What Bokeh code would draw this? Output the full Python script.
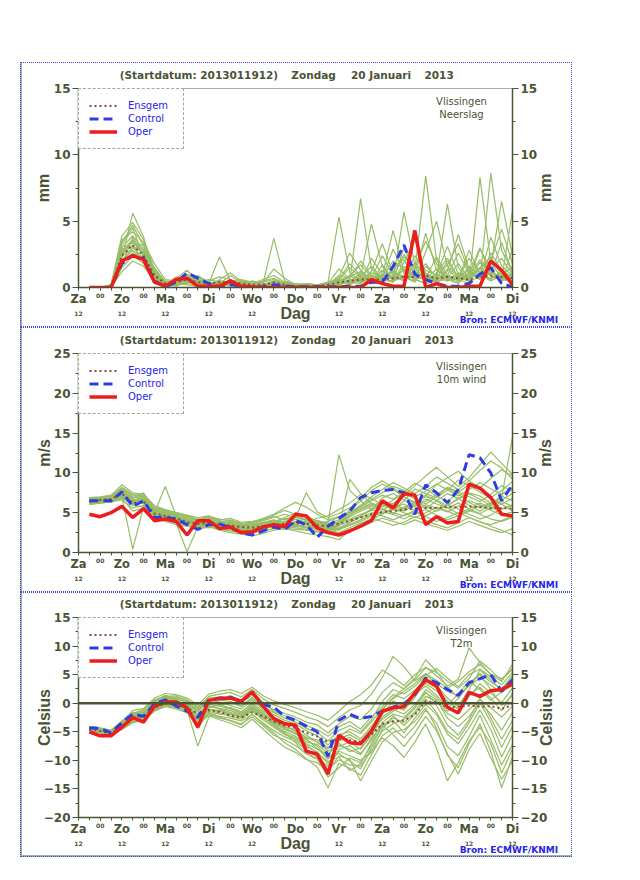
from math import pi
from bokeh.plotting import figure
from bokeh.layouts import column, row
from bokeh.models import (Range1d, LinearAxis, FixedTicker, Label, Legend, LegendItem,
                          Span, Spacer)
from bokeh.embed import file_html
from bokeh.resources import INLINE

# ---------------- data ----------------
HOURS = list(range(6, 241, 6))            # forecast hours (6-hourly)
DAY_TICKS = list(range(0, 241, 24))       # 12 UTC positions
DAY_NAMES = ["Za", "Zo", "Ma", "Di", "Wo", "Do", "Vr", "Za", "Zo", "Ma", "Di"]
NIGHT_TICKS = list(range(12, 240, 24))    # 00 UTC positions
TITLE_PARTS = ["(Startdatum: 2013011912)", "Zondag", "20 Januari", "2013"]
TITLE_AT = [66.6, 130.0, 167.3, 199.4]    # forecast hour under the centre of each title part
STATION = "Vlissingen"
SOURCE = "Bron: ECMWF/KNMI"
SOURCE_AT = 238.0
DAG_AT = 120
LEGEND_NAMES = ["Ensgem", "Control", "Oper"]

# Neerslag (mm)
precip_oper = [0, 0, 0, 2.0, 2.4, 2.1, 0.4, 0.1, 0.6, 0.7,
               0.1, 0.1, 0.1, 0.5, 0.1, 0.05, 0, 0, 0, 0,
               0, 0, 0, 0, 0, 0, 0.6, 0.3, 0.1, 0.1,
               4.3, 0, 0.3, 0, 0, 0.1, 0.1, 2.0, 1.3, 0.2]
precip_control = [0, 0, 0, 1.8, 2.4, 2.2, 0.5, 0.05, 0.4, 1.1,
                  0.7, 0.3, 0.05, 0.2, 0.1, 0.05, 0.05, 0.2, 0.1, 0.05,
                  0.05, 0.05, 0.05, 0.05, 0.1, 0.1, 0.4, 0.4, 1.6, 3.2,
                  1.0, 0.6, 0.3, 0.1, 0.1, 0.3, 1.0, 1.5, 0.3, 0.05]
precip_ensgem = [0, 0, 0.05, 2.4, 3.2, 2.4, 0.9, 0.3, 0.4, 0.6,
                 0.4, 0.3, 0.4, 0.4, 0.3, 0.2, 0.2, 0.4, 0.2, 0.1,
                 0.1, 0.1, 0.2, 0.4, 0.5, 0.6, 0.6, 0.6, 0.7, 0.8,
                 0.8, 0.9, 0.7, 0.8, 0.7, 0.6, 0.8, 0.9, 0.8, 0.7]
precip_members = [
    [0, 0, 0.1, 2.8, 3.6, 2.4, 0.8, 0.2, 0.3, 0.5, 0.2, 0.1, 0.3, 0.4, 0.1, 0, 0.1, 0.2, 0.1, 0,
     0, 0, 0.1, 0.3, 0.8, 1.2, 0.6, 0.4, 1.5, 2.1, 0.6, 0.3, 1.1, 2.2, 0.7, 0.5, 1.4, 2.3, 0.9, 0.4],
    [0, 0, 0.2, 3.4, 4.7, 3.1, 1.2, 0.3, 0.5, 0.9, 0.4, 0.2, 0.1, 0.6, 0.2, 0.1, 0, 0, 0.1, 0.1,
     0, 0.1, 0.4, 5.3, 1.1, 0.5, 0.3, 0.8, 0.4, 1.9, 3.6, 1.0, 0.4, 0.7, 1.8, 0.6, 2.9, 1.4, 0.5, 0.8],
    [0, 0, 0, 1.9, 3.0, 2.7, 1.5, 0.4, 0.2, 0.4, 0.6, 0.3, 2.3, 0.5, 0.2, 0.3, 0.1, 0.2, 0, 0,
     0.1, 0, 0, 0.2, 0.5, 6.7, 1.4, 0.6, 0.9, 0.5, 1.3, 8.4, 2.1, 0.6, 0.3, 1.2, 0.7, 3.8, 1.6, 0.9],
    [0, 0, 0.1, 2.2, 5.6, 3.8, 0.9, 0.1, 0.7, 1.3, 0.5, 0.1, 0.2, 0.3, 0.4, 0.1, 0.2, 0.1, 0.2, 0.1,
     0, 0, 0.2, 0.6, 1.8, 0.9, 4.8, 1.6, 0.5, 0.8, 0.4, 1.6, 0.8, 6.3, 1.5, 0.4, 0.9, 1.7, 6.5, 2.4],
    [0, 0, 0, 2.5, 3.2, 2.0, 0.6, 0.1, 0.4, 0.6, 0.3, 0.5, 0.8, 0.6, 0.3, 0.2, 0.3, 3.7, 0.5, 0.2,
     0.1, 0.1, 0, 0, 0.3, 0.7, 0.5, 0.9, 4.3, 1.2, 0.6, 0.3, 0.5, 1.4, 0.6, 0.3, 8.3, 1.9, 0.7, 0.5],
    [0, 0, 0.1, 3.0, 3.9, 2.9, 1.1, 0.5, 0.2, 0.3, 0.8, 0.4, 0.2, 0.1, 0.5, 0.4, 0.2, 0.5, 0.3, 0.1,
     0.2, 0.1, 0.2, 0.5, 0.9, 0.4, 2.2, 1.0, 0.6, 5.7, 1.7, 0.8, 0.4, 0.9, 2.6, 1.1, 0.6, 8.6, 2.8, 1.2],
    [0, 0, 0, 1.5, 2.4, 1.8, 0.4, 0.1, 0.3, 0.2, 0.1, 0.2, 0.3, 0.9, 0.4, 0.3, 0.6, 0.9, 0.4, 0.3,
     0.1, 0, 0.1, 0.3, 0.4, 1.1, 0.7, 0.5, 0.8, 2.5, 0.9, 4.1, 1.3, 0.7, 0.4, 1.0, 3.0, 0.8, 0.6, 5.8],
    [0, 0, 0.2, 3.6, 4.2, 3.4, 1.8, 0.6, 0.5, 1.0, 0.7, 0.3, 0.4, 0.2, 0.2, 0.1, 0.1, 0.3, 0.2, 0.2,
     0.3, 0.2, 0.1, 0.2, 0.6, 0.5, 1.2, 3.3, 1.1, 0.7, 2.4, 1.3, 0.9, 3.1, 1.0, 0.6, 1.5, 2.0, 4.4, 1.8],
    [0, 0, 0, 2.0, 2.6, 2.3, 0.9, 0.2, 0.1, 0.4, 0.3, 0.2, 0.5, 0.3, 0.2, 0.5, 0.3, 1.4, 0.7, 0.2,
     0.1, 0.2, 0.3, 0.1, 0.2, 0.6, 0.4, 1.7, 0.6, 0.9, 1.5, 3.5, 1.8, 0.5, 0.7, 2.2, 1.1, 0.6, 1.3, 0.7],
    [0, 0, 0.1, 2.7, 3.4, 2.6, 1.0, 0.3, 0.6, 0.8, 0.4, 0.6, 0.4, 0.2, 0.1, 0.2, 0.4, 0.6, 0.3, 0.1,
     0, 0.1, 0.2, 0.8, 2.6, 1.3, 0.6, 0.4, 1.2, 0.8, 0.5, 2.7, 5.0, 1.6, 0.8, 0.5, 1.9, 1.2, 0.5, 2.9],
    [0, 0, 0, 1.2, 2.0, 1.6, 0.5, 0.2, 0.2, 0.3, 0.2, 0.1, 0.6, 1.1, 0.5, 0.3, 0.2, 0.4, 0.2, 0.3,
     0.2, 0.1, 0.1, 0.4, 0.3, 0.8, 1.6, 0.7, 2.9, 1.1, 0.6, 0.9, 0.5, 1.2, 4.0, 1.4, 0.7, 1.1, 0.8, 0.4],
    [0, 0, 0.1, 3.2, 4.5, 2.2, 0.7, 0.3, 0.4, 0.7, 0.5, 0.3, 0.2, 0.4, 0.3, 0.2, 0.1, 0.2, 0.4, 0.2,
     0.1, 0, 0.2, 0.9, 0.7, 2.0, 0.9, 0.6, 0.5, 3.0, 1.2, 0.7, 2.3, 0.9, 0.6, 2.8, 1.0, 0.5, 0.9, 1.6],
    [0, 0, 0, 2.4, 2.9, 3.3, 1.3, 0.4, 0.3, 0.5, 0.9, 0.4, 0.3, 0.5, 0.6, 0.4, 0.2, 0.1, 0.1, 0.2,
     0.3, 0.2, 0.4, 0.6, 1.5, 0.8, 0.5, 1.3, 0.7, 0.6, 0.9, 1.8, 0.7, 0.5, 1.1, 0.8, 2.1, 1.0, 3.4, 1.1],
    [0, 0, 0.1, 2.9, 3.1, 1.9, 0.6, 0.1, 0.2, 0.6, 0.2, 0.2, 0.2, 0.3, 0.2, 0.1, 0.3, 0.2, 0.1, 0.1,
     0.1, 0.1, 0.2, 0.5, 0.4, 0.3, 0.9, 0.6, 0.4, 1.6, 0.8, 0.6, 1.0, 0.6, 0.9, 0.7, 1.5, 0.9, 0.6, 0.5],
    [0, 0, 0, 1.7, 3.8, 2.5, 1.0, 0.2, 0.8, 0.4, 0.3, 0.2, 0.4, 0.3, 0.4, 0.2, 0.5, 0.7, 0.3, 0.2,
     0.2, 0.1, 0.3, 1.4, 0.6, 0.5, 0.7, 2.4, 0.9, 0.5, 1.9, 0.8, 0.6, 2.0, 0.8, 1.3, 0.6, 1.4, 2.2, 1.0],
    [0, 0, 0.2, 3.9, 4.9, 3.6, 1.4, 0.4, 0.6, 0.8, 0.6, 0.2, 0.3, 0.2, 0.1, 0.2, 0.3, 0.2, 0.1, 0.1,
     0.2, 0.1, 0.1, 0.3, 0.9, 1.7, 0.8, 0.5, 1.3, 2.3, 1.5, 0.6, 0.8, 1.7, 3.3, 1.2, 0.7, 2.6, 1.3, 0.8],
    [0, 0, 0, 2.1, 2.8, 2.1, 0.7, 0.2, 0.3, 0.5, 0.2, 0.3, 0.5, 0.4, 0.2, 0.1, 0.1, 0.3, 0.2, 0.1,
     0.1, 0, 0.1, 0.2, 0.5, 0.4, 1.1, 0.8, 2.0, 1.4, 0.7, 1.1, 0.6, 0.9, 0.5, 1.6, 0.9, 0.7, 1.1, 0.6],
    [0, 0, 0.1, 2.6, 3.5, 2.8, 1.1, 0.3, 0.4, 0.7, 0.4, 0.2, 0.2, 0.3, 0.3, 0.2, 0.2, 0.4, 0.3, 0.2,
     0.1, 0.1, 0.3, 0.7, 0.5, 0.9, 0.6, 1.0, 0.7, 1.3, 0.9, 0.6, 1.4, 0.8, 0.6, 1.1, 0.8, 1.2, 0.7, 1.0],
]

# 10m wind (m/s)
wind_oper = [4.8, 4.5, 5.0, 5.8, 4.4, 5.5, 4.0, 4.2, 3.9, 2.2,
             4.0, 4.0, 3.0, 3.2, 2.5, 2.6, 3.2, 3.5, 3.25, 4.8,
             4.6, 3.1, 2.5, 2.2, 2.7, 3.3, 4.0, 6.5, 5.6, 7.4,
             7.2, 3.5, 4.5, 3.7, 3.9, 8.6, 8.1, 6.9, 4.8, 4.6]
wind_control = [6.5, 6.5, 6.5, 7.6, 5.8, 6.5, 4.4, 4.4, 4.2, 3.5,
                2.9, 3.5, 3.6, 3.1, 2.5, 2.2, 2.7, 3.2, 2.9, 4.0,
                3.5, 1.9, 3.3, 4.3, 5.2, 6.9, 7.5, 7.8, 7.9, 7.5,
                4.8, 8.5, 7.5, 6.25, 7.9, 12.3, 11.9, 10.0, 6.5, 8.5]
wind_ensgem = [6.4, 6.6, 6.7, 7.4, 6.2, 6.4, 4.9, 4.6, 4.3, 3.8,
               3.6, 3.7, 3.5, 3.4, 3.2, 3.1, 3.3, 3.5, 3.6, 3.7,
               3.6, 3.4, 3.3, 3.6, 4.0, 4.4, 4.8, 5.1, 5.2, 5.4,
               5.5, 5.6, 5.6, 5.7, 5.7, 5.8, 5.7, 5.6, 5.6, 5.5]
wind_members = [
    [6.4, 6.6, 6.8, 7.4, 6.2, 6.9, 5.1, 4.6, 4.3, 3.9, 3.6, 3.8, 3.4, 3.5, 3.1, 2.9, 3.2, 3.6, 3.9, 4.2,
     3.8, 3.4, 3.0, 3.6, 4.5, 5.2, 5.8, 6.4, 6.1, 5.5, 6.3, 7.0, 6.6, 5.9, 6.8, 7.5, 7.1, 6.2, 5.4, 5.9],
    [6.7, 6.9, 7.0, 8.2, 7.3, 7.0, 5.6, 5.2, 4.9, 4.4, 4.0, 4.3, 3.9, 3.6, 3.3, 3.5, 3.8, 4.1, 3.7, 3.5,
     3.9, 4.3, 4.6, 5.4, 6.2, 7.3, 6.8, 6.0, 5.3, 6.5, 8.0, 7.4, 6.9, 7.8, 9.1, 8.4, 7.6, 6.8, 6.1, 5.2],
    [6.1, 6.3, 6.5, 7.0, 0.4, 5.8, 4.4, 4.1, 3.7, 0.1, 3.2, 3.5, 3.0, 2.8, 2.6, 2.4, 2.7, 3.0, 3.3, 3.1,
     2.9, 2.7, 2.5, 2.9, 3.4, 3.9, 4.6, 5.1, 4.8, 4.2, 4.9, 5.4, 4.7, 4.1, 4.6, 5.3, 4.8, 4.2, 3.9, 4.4],
    [6.5, 6.7, 6.6, 7.7, 5.9, 6.4, 5.0, 8.3, 4.6, 4.1, 3.8, 4.0, 3.6, 3.9, 3.4, 3.2, 3.5, 3.8, 4.4, 5.0,
     4.6, 3.9, 3.5, 3.7, 4.2, 4.8, 5.3, 6.9, 7.4, 6.6, 5.8, 6.4, 7.3, 8.1, 7.4, 6.3, 5.6, 6.2, 7.1, 6.5],
    [6.3, 6.5, 6.7, 7.1, 6.6, 6.1, 4.7, 4.4, 4.1, 3.6, 3.3, 3.1, 3.4, 3.2, 2.8, 2.6, 2.9, 3.3, 3.5, 3.2,
     3.6, 4.0, 3.7, 12.3, 7.8, 6.5, 5.4, 4.8, 5.6, 6.1, 5.2, 4.6, 5.3, 6.0, 5.5, 4.8, 4.2, 4.7, 5.5, 6.0],
    [6.9, 7.0, 7.2, 8.5, 7.5, 7.3, 5.9, 5.4, 5.0, 4.7, 4.4, 4.6, 4.1, 4.3, 3.8, 3.9, 4.2, 4.5, 4.1, 4.4,
     7.5, 5.1, 4.4, 4.9, 5.6, 6.4, 7.8, 8.6, 7.9, 7.0, 6.2, 7.2, 8.5, 9.4, 10.2, 9.0, 8.1, 9.3, 10.4, 9.6],
    [6.2, 6.4, 6.3, 6.8, 5.2, 5.6, 4.2, 3.9, 3.5, 3.3, 3.0, 3.3, 2.8, 2.5, 2.3, 2.1, 2.4, 2.8, 3.0, 2.7,
     2.4, 2.2, 2.0, 1.6, 2.8, 3.6, 4.3, 3.9, 3.4, 3.8, 4.5, 4.0, 3.5, 3.1, 3.7, 4.4, 3.9, 3.3, 2.8, 2.2],
    [6.6, 6.8, 6.9, 7.9, 6.8, 7.5, 5.4, 4.9, 4.6, 4.3, 3.9, 4.2, 3.8, 4.1, 3.6, 3.4, 3.7, 3.4, 3.8, 4.5,
     4.0, 3.6, 3.9, 4.4, 5.0, 5.7, 6.5, 7.2, 6.7, 7.6, 8.7, 8.0, 7.1, 6.4, 7.5, 8.6, 7.9, 6.9, 7.8, 8.9],
    [6.5, 6.4, 6.6, 7.3, 6.4, 6.7, 4.9, 4.5, 4.4, 3.8, 3.5, 3.7, 3.3, 3.0, 2.7, 2.9, 3.3, 3.7, 3.4, 3.8,
     4.3, 3.8, 3.3, 3.0, 3.5, 4.1, 4.8, 5.5, 5.0, 4.6, 5.3, 6.0, 5.6, 5.1, 5.8, 6.5, 6.0, 5.4, 6.1, 6.8],
    [6.8, 6.9, 7.1, 8.0, 7.0, 6.8, 5.3, 5.0, 4.7, 4.2, 3.7, 3.9, 3.5, 3.3, 3.1, 3.3, 3.6, 3.9, 4.3, 3.9,
     3.6, 3.2, 2.9, 3.3, 9.2, 7.4, 6.1, 5.3, 6.2, 7.0, 6.3, 5.5, 6.5, 7.4, 6.8, 5.9, 5.2, 6.0, 6.9, 14.5],
    [6.3, 6.2, 6.4, 6.9, 6.0, 5.7, 4.5, 4.3, 3.9, 3.5, 3.4, 3.6, 3.2, 3.4, 3.0, 2.8, 3.0, 3.2, 2.9, 3.3,
     3.1, 2.9, 2.7, 3.1, 3.8, 4.4, 5.0, 4.6, 4.1, 4.7, 5.1, 4.5, 3.9, 4.4, 5.0, 4.4, 3.8, 3.5, 4.0, 4.6],
    [6.7, 6.7, 6.9, 7.6, 6.9, 7.1, 5.2, 4.8, 4.5, 4.0, 3.6, 3.9, 3.7, 3.8, 3.4, 3.6, 4.0, 4.4, 4.8, 4.4,
     4.1, 3.7, 3.4, 3.8, 4.6, 5.9, 7.0, 7.9, 8.8, 8.1, 7.4, 8.3, 9.5, 8.7, 7.9, 9.0, 10.3, 11.5, 10.6, 9.2],
    [6.4, 6.5, 6.5, 7.2, 6.3, 6.3, 4.8, 4.6, 4.2, 3.7, 3.1, 3.4, 3.1, 2.9, 2.8, 3.0, 3.4, 3.1, 3.5, 3.9,
     3.5, 3.1, 2.8, 2.5, 3.1, 3.7, 4.1, 4.9, 5.5, 5.0, 4.4, 5.0, 5.7, 5.2, 4.6, 5.2, 5.9, 5.3, 4.7, 5.1],
    [6.6, 6.8, 6.8, 7.8, 6.7, 6.6, 5.5, 5.1, 4.8, 4.5, 4.1, 4.4, 4.0, 3.7, 3.5, 3.7, 4.1, 4.7, 5.3, 4.8,
     4.4, 4.0, 3.6, 4.1, 4.9, 5.5, 6.2, 5.7, 6.6, 7.4, 6.8, 6.1, 7.0, 8.2, 7.6, 7.0, 6.4, 7.3, 8.4, 7.7],
    [6.0, 6.2, 6.4, 6.6, 5.6, 5.9, 4.3, 4.0, 3.8, 3.4, 2.9, 3.2, 2.9, 2.7, 2.5, 2.6, 2.9, 3.5, 3.2, 3.5,
     3.3, 3.0, 2.6, 3.4, 4.0, 4.6, 5.3, 6.1, 5.6, 5.2, 5.9, 6.7, 6.1, 5.6, 4.9, 5.5, 6.2, 5.7, 5.0, 4.4],
    [6.5, 6.6, 6.8, 7.5, 6.5, 6.6, 5.0, 4.7, 4.5, 4.0, 3.7, 3.9, 3.6, 3.4, 3.2, 3.4, 3.7, 4.0, 3.6, 3.4,
     3.2, 3.0, 2.8, 3.5, 5.4, 6.8, 8.2, 9.0, 8.1, 7.2, 8.4, 9.6, 10.7, 9.5, 8.3, 9.4, 11.0, 12.6, 11.2, 9.8],
    [6.2, 6.4, 6.5, 7.0, 6.1, 6.2, 4.6, 4.2, 4.0, 3.6, 3.3, 3.5, 3.1, 3.1, 2.9, 2.7, 3.1, 3.4, 3.1, 2.9,
     2.8, 2.6, 2.4, 2.2, 2.9, 3.3, 3.8, 4.3, 3.9, 3.5, 4.1, 3.6, 3.2, 2.8, 3.3, 3.9, 3.4, 2.9, 2.5, 3.0],
    [6.8, 6.9, 7.0, 8.1, 7.2, 7.2, 5.7, 5.3, 5.0, 4.6, 4.2, 4.5, 4.2, 4.0, 3.7, 3.8, 4.3, 4.8, 5.6, 6.3,
     5.7, 4.8, 4.1, 4.5, 5.1, 5.9, 6.7, 7.5, 8.3, 7.8, 7.0, 7.7, 8.6, 7.9, 7.1, 7.9, 8.8, 8.0, 7.3, 8.2],
    [6.4, 6.5, 6.6, 7.2, 6.2, 6.5, 4.8, 4.5, 4.2, 3.9, 3.5, 3.6, 3.2, 3.2, 2.9, 3.1, 3.4, 3.8, 4.2, 4.6,
     4.2, 3.7, 3.2, 3.9, 4.7, 5.4, 6.0, 5.4, 4.9, 5.7, 6.4, 5.8, 5.2, 5.9, 6.7, 7.4, 6.7, 5.9, 6.6, 7.4],
    [6.6, 6.7, 6.9, 7.7, 6.6, 6.9, 5.2, 4.8, 4.6, 4.1, 3.8, 4.0, 3.7, 3.5, 3.3, 3.2, 3.5, 3.9, 3.5, 3.7,
     3.9, 3.5, 3.1, 2.8, 3.7, 4.6, 5.5, 6.3, 5.9, 5.4, 6.1, 7.2, 6.5, 5.6, 6.2, 5.5, 4.9, 5.6, 6.4, 5.8],
]

# T2m (Celsius)
temp_oper = [-5.0, -5.7, -5.7, -4.2, -2.5, -3.3, -0.5, 0.2, 0.2, -0.8,
             -4.2, 0.5, 0.8, 0.9, 0.35, 2.0, -0.5, -2.7, -3.6, -3.85,
             -8.4, -8.9, -12.4, -5.6, -6.9, -7.1, -4.9, -1.4, -0.8, -0.6,
             1.8, 4.1, 3.0, -0.7, -1.7, 1.9, 1.2, 2.2, 2.4, 3.4]
temp_control = [-4.3, -4.4, -5.2, -3.4, -1.9, -2.3, -0.1, 0.6, -0.5, -1.4,
                -2.5, 0.5, 0.9, 1.05, 0.35, 1.8, -0.2, -0.7, -2.3, -3.0,
                -4.0, -5.0, -9.3, -3.0, -1.9, -2.7, -2.3, -1.4, -0.7, -0.1,
                1.5, 4.4, 3.6, 2.4, 1.4, 3.6, 4.3, 5.0, 2.1, 4.1]
temp_ensgem = [-4.6, -4.9, -5.3, -4.0, -2.6, -2.2, -0.8, 0.0, -0.3, -0.8,
               -1.8, -1.2, -1.5, -2.2, -2.5, -1.6, -2.3, -3.2, -3.9, -4.3,
               -5.2, -5.8, -6.8, -6.2, -6.5, -6.8, -5.5, -3.6, -3.2, -3.0,
               -2.0, 0.3, 0.2, -0.8, -0.6, -0.4, -0.6, -0.5, -1.0, -0.3]
temp_members = [
    [-4.3, -4.6, -5.1, -3.8, -2.2, -1.5, -0.4, 0.3, 0.1, -0.5, -2.1, -0.8, -0.3, 0.2, -0.6, 0.8, -1.2, -2.5, -3.4, -4.1,
     -5.6, -6.8, -8.4, -7.3, -8.1, -9.0, -6.2, -3.8, -2.6, -3.4, -1.5, 1.2, 0.4, -1.8, -2.9, -1.1, 0.6, -0.8, -2.4, -0.5],
    [-4.6, -5.0, -5.4, -4.2, -2.9, -2.5, -1.0, 0.6, 0.9, 0.2, -1.5, 0.4, 0.9, 1.3, 0.5, 1.9, 0.2, -1.4, -2.2, -2.8,
     -3.9, -4.6, -5.8, -4.1, -3.2, -4.5, -2.4, -0.6, 1.5, 0.8, 2.3, 4.2, 3.5, 2.1, 1.3, 3.0, 4.4, 3.2, 1.8, 3.6],
    [-4.1, -4.3, -4.8, -3.3, -1.6, -2.0, 0.5, 1.4, 0.8, -0.9, -4.4, -1.6, -2.4, -3.1, -3.8, -1.9, -3.6, -5.2, -6.9, -8.1,
     -9.7, -11.2, -14.8, -10.5, -11.4, -12.6, -9.0, -5.7, -4.3, -6.1, -4.0, -1.2, -3.5, -7.6, -9.2, -5.8, -2.1, -6.4, -10.8, -7.2],
    [-4.5, -4.8, -5.2, -4.4, -3.1, -2.7, -0.9, 0.0, -0.4, -1.1, -7.5, -2.5, -1.4, -0.7, -1.5, -0.2, -1.8, -3.3, -4.6, -5.2,
     -6.4, -7.5, -9.6, -8.8, -10.1, -11.5, -7.8, -4.9, -3.6, -2.8, -0.9, 1.8, 0.6, -2.6, -4.1, -2.3, 0.2, -1.9, -4.7, -1.6],
    [-4.4, -4.7, -5.0, -3.6, -2.4, -1.8, -0.2, 0.8, 1.1, 0.6, -0.8, 1.2, 1.6, 1.9, 1.1, 2.4, 0.8, -0.3, -0.9, -1.6,
     -2.4, -3.0, -4.1, -2.5, -1.2, -0.4, 1.6, 4.5, 8.2, 6.4, 3.9, 5.2, 3.1, 0.9, -0.6, 2.4, 5.8, 4.1, 2.2, 4.6],
    [-4.7, -5.1, -5.5, -4.6, -3.4, -3.0, -1.4, -0.6, -1.0, -1.7, -3.6, -2.2, -2.9, -3.5, -4.3, -2.8, -4.5, -6.2, -7.7, -8.6,
     -9.9, -10.4, -12.0, -9.2, -9.8, -13.6, -10.1, -6.8, -5.1, -4.6, -3.2, -0.8, -4.4, -9.1, -11.3, -7.0, -3.6, -8.5, -14.8, -9.3],
    [-4.2, -4.5, -4.9, -3.2, -1.3, -0.9, 0.9, 1.7, 1.5, 0.9, -0.3, 1.6, 2.1, 2.4, 1.7, 2.8, 1.3, 0.4, -0.2, -0.8,
     -1.5, -2.1, -3.0, -1.4, 0.3, 1.5, 3.2, 5.8, 4.6, 3.1, 5.0, 6.3, 4.8, 3.0, 4.2, 9.7, 7.1, 5.0, 3.8, 6.8],
    [-4.5, -4.9, -5.3, -4.0, -2.7, -2.2, -0.7, 0.2, -0.1, -0.7, -2.6, -1.0, -1.7, -2.3, -2.8, -1.4, -2.9, -4.2, -5.5, -6.3,
     -7.6, -8.5, -10.6, -8.1, -7.4, -8.8, -6.5, -3.4, -1.9, -2.5, -0.6, 2.4, 1.0, -1.4, -0.2, 1.5, 2.8, 0.9, -1.3, 1.8],
    [-4.8, -5.2, -5.6, -4.5, -3.3, -2.8, -1.2, -0.3, -0.6, -1.3, -3.0, -1.8, -2.3, -2.6, -3.1, -2.0, -3.4, -4.8, -5.9, -6.6,
     -8.2, -9.3, -11.5, -9.9, -10.8, -11.0, -8.3, -6.1, -7.4, -9.5, -6.8, -3.6, -7.9, -13.6, -10.4, -6.6, -4.2, -7.1, -12.2, -8.0],
    [-4.3, -4.6, -5.1, -3.7, -2.0, -1.6, 0.2, 1.0, 0.5, -0.2, -1.1, 0.6, 0.2, -0.4, -1.0, 0.5, -0.8, -2.0, -3.0, -3.6,
     -4.8, -5.7, -7.3, -5.5, -5.0, -6.2, -4.0, -1.6, -0.5, -1.2, 1.0, 3.8, 2.6, 0.4, -1.0, 1.2, 3.4, 1.8, 0.1, 2.7],
    [-4.6, -5.0, -5.3, -4.1, -2.6, -2.3, -0.5, 0.5, 0.4, -0.3, -2.3, -0.4, -1.0, -1.6, -2.1, -0.7, -2.4, -3.9, -4.9, -5.8,
     -7.1, -8.0, -9.1, -6.6, -6.0, -7.2, -5.1, -2.8, -1.4, -0.4, 1.6, 3.0, 1.4, -0.9, 0.8, 3.4, 5.2, 3.7, 2.5, 4.9],
    [-4.4, -4.8, -5.2, -3.9, -2.5, -2.0, -0.3, 0.4, 0.2, -0.6, -1.9, -0.2, -0.5, -1.0, -1.6, 0.1, -1.5, -2.9, -4.0, -4.7,
     -6.0, -6.4, -7.8, -5.9, -4.5, -5.3, -3.3, -0.9, 0.8, 2.1, 3.4, 5.1, 4.0, 2.6, 3.8, 5.5, 6.8, 5.1, 4.3, 5.9],
    [-4.5, -4.9, -5.4, -4.3, -3.0, -2.6, -1.1, -0.2, -0.3, -1.0, -2.8, -1.4, -1.9, -2.0, -2.5, -1.2, -2.6, -3.6, -5.1, -6.9,
     -8.9, -9.8, -12.9, -11.3, -9.6, -10.4, -7.4, -4.1, -3.0, -5.2, -2.6, -0.2, -2.0, -5.4, -7.1, -4.3, -1.2, -4.6, -9.4, -5.5],
    [-4.2, -4.4, -4.7, -3.1, -1.8, -1.1, 0.6, 1.2, 1.3, 0.4, -0.6, 0.9, 1.1, 0.7, 0.1, 1.4, -0.3, -1.1, -1.8, -2.4,
     -3.3, -3.8, -5.2, -3.6, -2.3, -2.9, -1.0, 1.9, 3.6, 2.5, 4.1, 6.2, 5.4, 3.9, 2.6, 4.3, 7.4, 5.8, 4.0, 6.1],
    [-4.6, -5.0, -5.5, -4.1, -2.8, -2.4, -0.8, 0.1, -0.2, -0.8, -2.4, -1.2, -1.2, -1.8, -2.3, -0.9, -2.2, -3.2, -4.4, -5.3,
     -6.8, -7.2, -8.9, -7.0, -8.5, -7.8, -5.8, -2.4, -1.1, -1.9, -0.2, 2.0, -0.4, -3.8, -5.6, -2.9, 0.9, -2.6, -6.3, -3.0],
    [-4.4, -4.8, -5.2, -3.9, -2.3, -1.9, -0.1, 0.9, 0.6, -0.4, -1.4, 0.3, -0.2, -0.9, -1.8, -0.5, -2.0, -3.5, -4.5, -5.4,
     -6.2, -7.9, -9.8, -7.6, -6.8, -8.1, -5.3, -2.0, 0.4, -0.5, 1.9, 3.4, 2.2, -0.3, 1.6, 3.9, 2.4, 0.5, 2.0, 3.1],
    [-4.7, -5.1, -5.4, -4.3, -3.2, -2.9, -1.3, -0.4, -0.8, -1.5, -3.3, -2.0, -2.6, -3.0, -3.6, -2.4, -3.9, -5.6, -6.4, -7.4,
     -8.8, -9.6, -11.0, -8.4, -9.2, -10.0, -8.6, -4.6, -2.2, -3.9, -1.9, 0.7, -1.6, -4.9, -6.3, -3.4, 0.1, -3.3, -7.7, -4.1],
    [-4.3, -4.5, -5.0, -3.5, -1.9, -1.3, 0.4, 1.1, 0.9, 0.1, -1.0, 0.8, 0.6, 0.3, -0.4, 1.0, -0.6, -1.6, -2.6, -3.3,
     -4.4, -5.1, -6.6, -4.8, -3.9, -5.0, -2.9, 0.3, 2.4, 1.6, 3.0, 4.8, 6.1, 4.4, 2.9, 5.0, 6.0, 4.6, 3.2, 5.4],
    [-4.5, -4.9, -5.3, -4.2, -2.8, -2.5, -0.9, 0.0, -0.2, -0.9, -2.7, -1.1, -1.4, -1.9, -2.4, -1.0, -2.5, -3.9, -5.3, -6.1,
     -7.3, -8.7, -10.2, -9.4, -11.8, -10.6, -7.0, -3.9, -5.5, -7.6, -5.2, -2.3, -4.8, -8.8, -12.4, -8.1, -5.3, -9.6, -13.3, -10.1],
    [-4.6, -4.9, -5.4, -4.0, -2.4, -2.1, -0.6, 0.4, 0.0, -0.6, -2.0, -0.6, -0.9, -1.3, -2.0, -0.6, -1.9, -3.0, -4.2, -4.9,
     -6.0, -6.8, -8.0, -6.2, -5.5, -6.6, -4.4, -1.2, 1.0, 2.6, 4.4, 7.6, 5.6, 2.8, 1.0, 3.3, 5.0, 2.4, -0.4, 1.3],
]

# ---------------- style ----------------
C_TXT = "#4a5434"
C_AX = "#4a5434"
C_ENS = "#97bd66"
C_MEAN = "#8b4a3c"
C_CTRL = "#2f3de6"
C_OPER = "#ee1c1c"
C_BLUE = "#2525e8"
C_FRAME = "#3a48dd"
C_GRAY = "#a5afa5"
FONT = "DejaVu Sans"
FONT2 = "Liberation Sans"

FW = 434
BL, BR = 58, 60


def text_axis(p, side, ticks, texts, size, standoff, font=FONT, color=C_TXT,
              orientation="horizontal"):
    """An axis used only to write text at data positions (no line, no ticks)."""
    ax = LinearAxis(ticker=FixedTicker(ticks=list(ticks), minor_ticks=[]),
                    major_label_overrides={t: s for t, s in zip(ticks, texts)},
                    axis_line_color=None, major_tick_line_color=None,
                    minor_tick_line_color=None, major_tick_out=0, major_tick_in=0,
                    minor_tick_out=0, minor_tick_in=0,
                    major_label_standoff=standoff, major_label_text_font=font,
                    major_label_text_font_size=size, major_label_text_font_style="bold",
                    major_label_text_color=color, major_label_orientation=orientation,
                    axis_label_text_font=FONT2, axis_label_text_font_size="16px",
                    axis_label_text_font_style="bold", axis_label_text_color=C_TXT)
    p.add_layout(ax, side)
    return ax


def make_panel(ymin, ymax, unit, param, members, ensgem, control, oper,
               fh, tb, unit_standoff, unit_standoff_r, unit_tick,
               last=False, zero_line=False):
    shadow = "inset 2px 0 0 %s" % C_GRAY
    if last:
        shadow += ", inset 0 -2px 0 %s" % C_GRAY
    p = figure(frame_width=FW, frame_height=fh,
               min_border_left=BL, min_border_right=BR,
               min_border_top=tb, min_border_bottom=0,
               x_range=Range1d(0, 240), y_range=Range1d(ymin, ymax),
               output_backend="svg", toolbar_location=None,
               background_fill_color="white", border_fill_color=None,
               styles={"outline": "1px dotted %s" % C_FRAME, "outline-offset": "-1px",
                       "box-shadow": shadow, "background-color": "white"})
    p.xgrid.visible = False
    p.ygrid.visible = False
    p.outline_line_color = C_GRAY
    p.outline_line_width = 1

    major = list(range(ymin, ymax + 1, 5))
    minor = [ymin + 2.5 * i for i in range(int((ymax - ymin) / 2.5) + 1)]

    yr = LinearAxis()
    p.add_layout(yr, "right")
    for ax in (p.yaxis[0], yr):
        ax.axis_line_color = C_AX
        ax.axis_line_width = 1.5
        ax.major_tick_line_color = C_AX
        ax.minor_tick_line_color = C_AX
        ax.major_tick_in = 0
        ax.minor_tick_in = 0
        ax.major_tick_out = 6
        ax.minor_tick_out = 3
        ax.ticker = FixedTicker(ticks=major, minor_ticks=minor)
        ax.major_label_text_font = FONT
        ax.major_label_text_font_style = "bold"
        ax.major_label_text_color = C_TXT
        ax.major_label_text_font_size = "12px"
        ax.major_label_standoff = 2

    # unit label on the left = the left axis' own title
    yl = p.yaxis[0]
    yl.axis_label = unit
    yl.axis_label_text_font = FONT2
    yl.axis_label_text_font_size = "16px"
    yl.axis_label_text_font_style = "bold"
    yl.axis_label_text_color = C_TXT
    yl.axis_label_standoff = unit_standoff
    # unit label on the right, reading upwards like the left one
    text_axis(p, "right", [unit_tick], [unit], "16px", unit_standoff_r, font=FONT2,
              orientation=pi / 2)

    # x axis: axis line, ticks and the small "00" labels
    xa = p.xaxis[0]
    xa.axis_line_color = C_AX
    xa.axis_line_width = 1.5
    xa.major_tick_line_color = C_AX
    xa.minor_tick_line_color = C_AX
    xa.major_tick_in = 0
    xa.minor_tick_in = 0
    xa.major_tick_out = 3
    xa.minor_tick_out = 3
    xa.ticker = FixedTicker(ticks=NIGHT_TICKS, minor_ticks=list(range(0, 241, 6)))
    xa.major_label_overrides = {t: "00" for t in NIGHT_TICKS}
    xa.major_label_text_font = FONT
    xa.major_label_text_font_style = "bold"
    xa.major_label_text_color = C_TXT
    xa.major_label_text_font_size = "6px"
    xa.major_label_standoff = 2
    # day names on the same row
    text_axis(p, "below", DAY_TICKS, DAY_NAMES, "11.5px", -9)
    # "12" row with "Dag"
    t12 = [t for t in DAY_TICKS if t != DAG_AT]
    a12 = text_axis(p, "below", t12, ["12"] * len(t12), "6px", 2)
    a12.axis_label = "Dag"
    a12.axis_label_standoff = -14
    # source
    text_axis(p, "below", [SOURCE_AT], [SOURCE], "9px", -10, color=C_BLUE)
    # title line
    text_axis(p, "above", TITLE_AT, TITLE_PARTS, "10.5px", 8)

    if zero_line:
        p.add_layout(Span(location=0, dimension="width", line_color=C_AX, line_width=2.5))

    p.multi_line(xs=[HOURS[:len(m)] for m in members], ys=members,
                 line_color=C_ENS, line_width=1.2)
    r_ens = p.line(HOURS, ensgem, line_color=C_MEAN, line_width=2, line_dash="2 3")
    r_ctl = p.line(HOURS, control, line_color=C_CTRL, line_width=3, line_dash="9 5")
    r_op = p.line(HOURS, oper, line_color=C_OPER, line_width=3.5)

    legend = Legend(items=[LegendItem(label=LEGEND_NAMES[0], renderers=[r_ens]),
                           LegendItem(label=LEGEND_NAMES[1], renderers=[r_ctl]),
                           LegendItem(label=LEGEND_NAMES[2], renderers=[r_op])],
                    location="top_left", margin=0, padding=10, spacing=0,
                    glyph_width=28, glyph_height=13, label_height=13, label_width=45,
                    label_standoff=11, label_text_font=FONT, label_text_font_size="10px",
                    label_text_color=C_BLUE, border_line_color=C_AX,
                    border_line_dash="1 2", border_line_width=1,
                    background_fill_color="white", background_fill_alpha=1.0)
    p.add_layout(legend)

    # station / parameter (inside the plot area)
    for yoff, txt in ((13, STATION), (25.5, param)):
        p.add_layout(Label(x=383, y=fh - yoff, x_units="screen", y_units="screen",
                           text=txt, text_font=FONT, text_font_size="10px",
                           text_color=C_TXT, text_align="center",
                           text_baseline="middle"))
    return p


p1 = make_panel(0, 15, "mm", "Neerslag", precip_members, precip_ensgem,
                precip_control, precip_oper, fh=199, tb=26,
                unit_standoff=-1, unit_standoff_r=5, unit_tick=6.45)
p2 = make_panel(0, 25, "m/s", "10m wind", wind_members, wind_ensgem,
                wind_control, wind_oper, fh=199, tb=26,
                unit_standoff=-2, unit_standoff_r=5, unit_tick=10.77)
p3 = make_panel(-20, 15, "Celsius", "T2m", temp_members, temp_ensgem,
                temp_control, temp_oper, fh=200, tb=25,
                unit_standoff=-12, unit_standoff_r=-4, unit_tick=-7.49,
                last=True, zero_line=True)

layout = column(Spacer(height=62), row(Spacer(width=20), column(p1, p2, p3, spacing=0)),
                spacing=0)

with open("out.html", "w") as f:
    f.write(file_html(layout, INLINE))
